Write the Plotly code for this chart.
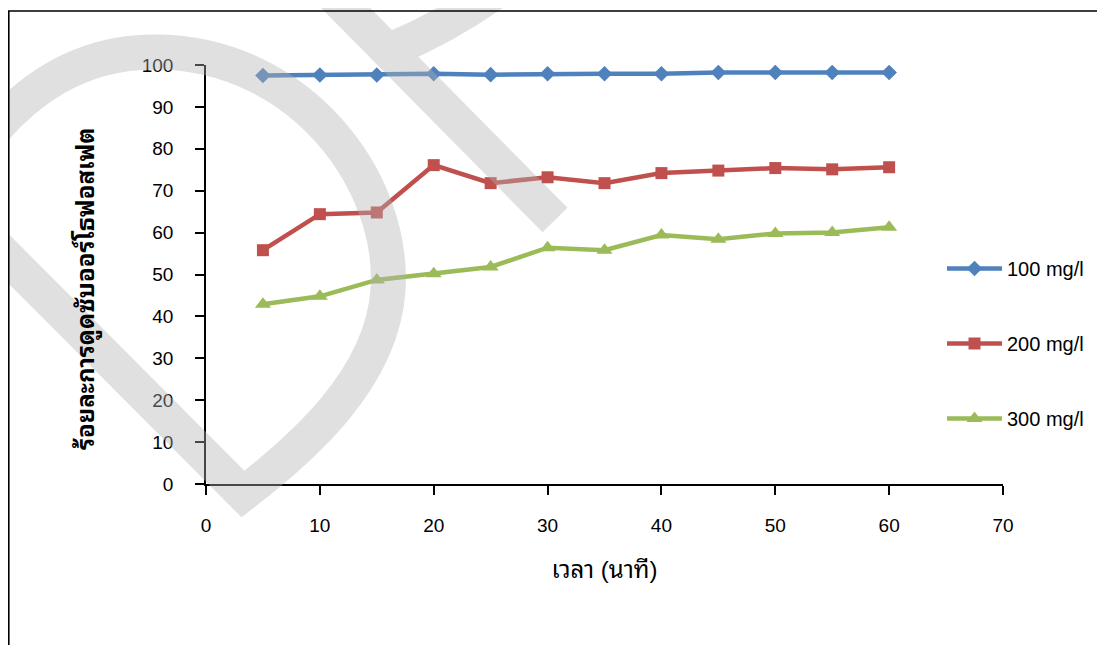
import plotly.graph_objects as go

# ---- data ----
time_min = [5, 10, 15, 20, 25, 30, 35, 40, 45, 50, 55, 60]
s100 = [97.5, 97.6, 97.6, 97.9, 97.7, 97.9, 97.9, 97.9, 98.2, 98.2, 98.2, 98.2]
s200 = [55.8, 64.4, 64.8, 76.1, 71.8, 73.2, 71.8, 74.2, 74.8, 75.4, 75.1, 75.6]
s300 = [42.9, 44.8, 48.7, 50.2, 51.8, 56.4, 55.8, 59.4, 58.4, 59.8, 60.0, 61.3]
series_names = ["100 mg/l", "200 mg/l", "300 mg/l"]
x_ticks = [0, 10, 20, 30, 40, 50, 60, 70]
y_ticks = [0, 10, 20, 30, 40, 50, 60, 70, 80, 90, 100]
x_title = "เวลา (นาที)"
y_title = "ร้อยละการดูดซับออร์โธฟอสเฟต"

colors = ["#4F81BD", "#C0504D", "#9BBB59"]
symbols = ["diamond", "square", "triangle-up"]
msizes = [12, 12, 14]

W, H = 1105, 645
OFF = 8  # page body margin
# plot area in screen pixels
SL, SR, ST, SB = 206, 1003, 65, 484
L, R, T, B = SL - OFF, SR - OFF, ST - OFF, SB - OFF

fig = go.Figure()
for i, ys in enumerate([s100, s200, s300]):
    fig.add_trace(go.Scatter(
        x=time_min, y=ys, mode="lines+markers", name=series_names[i],
        legendgroup=series_names[i],
        line=dict(color=colors[i], width=4.5),
        marker=dict(symbol=symbols[i], size=msizes[i], color=colors[i]),
    ))

def px(x):
    return (x - SL) / (SR - SL)

def py(y):
    return (SB - y) / (SB - ST)

def P(x, y):
    return "%.4f,%.4f" % (px(x), py(y))

# faint watermark stroke (decoration)
wm = ("M " + P(-30, 220) + " L " + P(243, 494) +
      " C " + P(300, 450) + " " + P(382, 380) + " " + P(388, 290) +
      " C " + P(395, 180) + " " + P(300, 55) + " " + P(160, 52) +
      " C " + P(80, 50) + " " + P(20, 90) + " " + P(-30, 160) +
      " M " + P(320, -18) + " L " + P(555, 220) +
      " M " + P(395, 48) + " Q " + P(450, 25) + " " + P(505, -15))

font_main = "Liberation Sans, Arial, Noto Sans Thai Looped, Noto Serif Thai, Noto Sans Thai, sans-serif"

fig.update_layout(
    width=W, height=H,
    margin=dict(l=L, r=W - R, t=T, b=H - B),
    paper_bgcolor="white", plot_bgcolor="white",
    font=dict(family=font_main, size=19, color="black"),
    showlegend=True,
    legend=dict(x=px(942), xanchor="left",
                y=py(249), yanchor="top",
                itemwidth=55, tracegroupgap=46,
                font=dict(size=20, family=font_main),
                bgcolor="rgba(0,0,0,0)"),
    xaxis=dict(range=[0, 70], tickvals=x_ticks, showgrid=False, zeroline=False,
               showline=True, linecolor="black", linewidth=1.5,
               ticks="outside", ticklen=9, tickwidth=1.5, tickcolor="black",
               ticklabelstandoff=14, tickfont=dict(size=19),
               title=dict(text=x_title, standoff=27,
                          font=dict(size=24, family=font_main))),
    yaxis=dict(range=[0, 100], tickvals=y_ticks, showgrid=False, zeroline=False,
               showline=True, linecolor="black", linewidth=1.5,
               ticks="outside", ticklen=9, tickwidth=1.5, tickcolor="black",
               ticklabelstandoff=18, tickfont=dict(size=19)),
    annotations=[dict(text="<b>" + y_title + "</b>", textangle=-90,
                      xref="paper", yref="paper",
                      x=px(86), y=py(289),
                      xanchor="center", yanchor="middle", showarrow=False,
                      font=dict(size=24, family=font_main, color="black"))],
    shapes=[
        dict(type="path", path=wm, xref="paper", yref="paper", layer="above",
             line=dict(color="rgba(178,178,178,0.40)", width=35)),
        dict(type="rect", xref="paper", yref="paper", layer="above",
             x0=px(OFF + 0.8), y0=py(700), x1=px(1200), y1=py(11),
             line=dict(color="black", width=1.6), fillcolor="rgba(0,0,0,0)"),
    ],
)

fig.write_html("out.html")
